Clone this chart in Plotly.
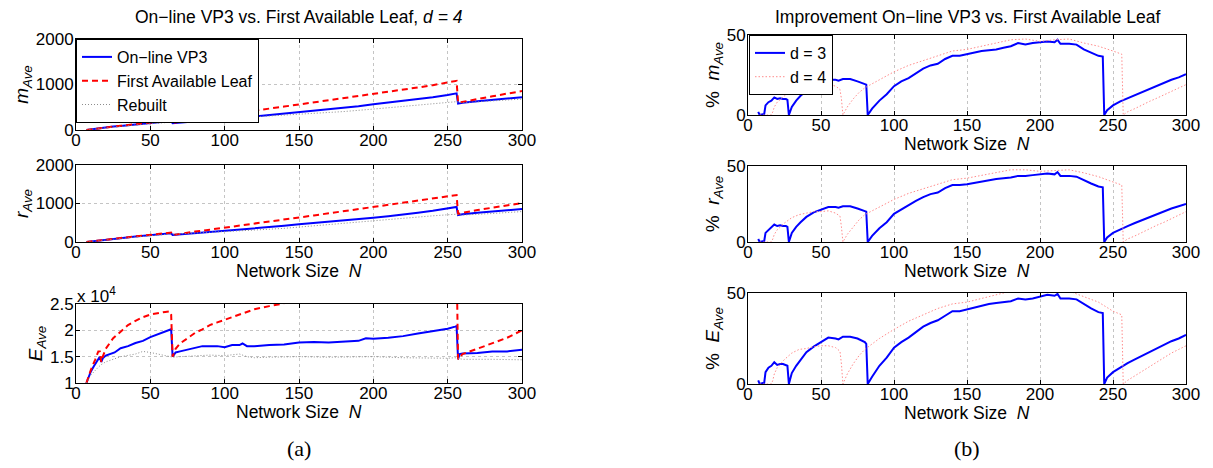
import plotly.graph_objects as go

# ---------------- DATA ----------------
# Left column: averages vs network size N
N_m_vp3 = [7, 10, 15, 20, 25, 30, 40, 50, 60, 64, 65, 70, 80, 90, 100, 110, 120, 130, 140, 150, 160, 170, 180, 190, 200, 210, 220, 230, 240, 250, 255, 256, 257, 260, 270, 280, 290, 300]
m_vp3 = [0, 15, 35, 55, 75, 90, 120, 150, 185, 200, 150, 165, 195, 220, 245, 270, 295, 325, 355, 390, 420, 450, 480, 520, 565, 600, 640, 680, 720, 770, 800, 805, 580, 600, 630, 660, 690, 720]
N_m_fal = [7, 10, 15, 20, 25, 30, 40, 50, 60, 64, 65, 70, 80, 90, 100, 110, 120, 130, 140, 150, 160, 170, 180, 190, 200, 210, 220, 230, 240, 250, 255, 256, 257, 260, 270, 280, 290, 300]
m_fal = [0, 15, 35, 55, 75, 92, 125, 160, 195, 210, 150, 185, 235, 285, 330, 375, 425, 470, 515, 560, 605, 650, 700, 745, 790, 840, 885, 935, 985, 1040, 1075, 1080, 600, 620, 680, 740, 800, 855]
N_m_reb = [7, 20, 40, 60, 80, 100, 120, 140, 160, 180, 200, 220, 240, 255, 260, 280, 300]
m_reb = [0, 50, 110, 170, 215, 250, 285, 320, 360, 405, 460, 520, 580, 620, 600, 640, 680]

N_r_vp3 = [7, 10, 20, 30, 40, 50, 60, 64, 65, 70, 80, 90, 100, 110, 120, 130, 140, 150, 160, 170, 180, 190, 200, 210, 220, 230, 240, 250, 255, 256, 257, 260, 270, 280, 290, 300]
r_vp3 = [0, 15, 60, 100, 140, 175, 210, 225, 180, 195, 225, 255, 285, 315, 350, 385, 420, 460, 490, 525, 560, 595, 630, 670, 710, 760, 810, 870, 905, 910, 700, 720, 760, 795, 825, 855]
N_r_fal = [7, 10, 20, 30, 40, 50, 60, 64, 65, 70, 80, 90, 100, 110, 120, 130, 140, 150, 160, 170, 180, 190, 200, 210, 220, 230, 240, 250, 255, 256, 257, 260, 270, 280, 290, 300]
r_fal = [0, 15, 60, 105, 145, 185, 225, 245, 180, 215, 270, 320, 370, 425, 475, 530, 580, 635, 690, 745, 800, 855, 910, 965, 1020, 1075, 1130, 1190, 1215, 1220, 730, 760, 830, 895, 955, 1010]
N_r_reb = [7, 20, 40, 60, 80, 100, 120, 140, 160, 180, 200, 220, 240, 255, 260, 280, 300]
r_reb = [0, 55, 130, 195, 230, 265, 310, 355, 420, 490, 565, 620, 680, 720, 700, 740, 790]

# E_Ave in units of 10^4
N_E_vp3 = [7, 8, 10, 12, 14, 16, 17, 18, 20, 23, 26, 30, 35, 40, 45, 50, 55, 60, 63, 64, 65, 67, 70, 75, 80, 85, 90, 95, 100, 105, 110, 112, 115, 120, 130, 140, 150, 160, 170, 180, 190, 195, 200, 210, 220, 230, 240, 250, 255, 256, 257, 258, 260, 270, 280, 290, 300]
E_vp3 = [1.0, 1.08, 1.22, 1.32, 1.42, 1.5, 1.4, 1.47, 1.52, 1.55, 1.58, 1.66, 1.7, 1.76, 1.8, 1.87, 1.92, 1.97, 2.0, 2.02, 1.5, 1.58, 1.6, 1.63, 1.66, 1.7, 1.7, 1.7, 1.68, 1.72, 1.72, 1.75, 1.7, 1.7, 1.72, 1.73, 1.77, 1.78, 1.77, 1.79, 1.8, 1.85, 1.84, 1.86, 1.89, 1.94, 1.98, 2.03, 2.07, 2.08, 1.45, 1.55, 1.56, 1.57, 1.6, 1.6, 1.63]
N_E_fal = [7, 10, 13, 15, 16, 17, 18, 20, 25, 30, 35, 40, 45, 50, 55, 60, 63, 64, 65, 67, 70, 75, 80, 85, 90, 95, 100, 110, 120, 130, 138, 150, 200, 255, 256, 257, 260, 270, 280, 290, 300]
E_fal = [1.0, 1.25, 1.45, 1.6, 1.6, 1.4, 1.5, 1.65, 1.85, 1.98, 2.1, 2.18, 2.25, 2.3, 2.33, 2.35, 2.36, 2.3, 1.5, 1.65, 1.75, 1.85, 1.95, 2.02, 2.1, 2.15, 2.2, 2.3, 2.4, 2.46, 2.5, 2.6, 3.0, 3.3, 3.3, 1.45, 1.55, 1.65, 1.75, 1.86, 2.0]
N_E_reb = [7, 10, 15, 17, 20, 25, 30, 40, 45, 50, 55, 60, 65, 70, 80, 90, 100, 110, 115, 120, 130, 150, 170, 190, 200, 220, 240, 250, 255, 260, 280, 300]
E_reb = [1.0, 1.15, 1.3, 1.35, 1.4, 1.45, 1.5, 1.55, 1.6, 1.58, 1.55, 1.52, 1.49, 1.5, 1.52, 1.53, 1.52, 1.55, 1.5, 1.48, 1.49, 1.5, 1.49, 1.5, 1.5, 1.48, 1.47, 1.47, 1.48, 1.45, 1.45, 1.44]

# Right column: % improvement
N_imp_d3 = [7, 8, 10, 11, 12, 14, 16, 18, 20, 22, 24, 26, 27, 28, 30, 33, 36, 40, 45, 50, 55, 60, 62, 65, 70, 75, 80, 81, 82, 85, 90, 95, 100, 105, 110, 115, 120, 125, 130, 135, 140, 145, 150, 155, 160, 165, 170, 175, 180, 185, 190, 195, 200, 205, 210, 212, 214, 220, 225, 230, 235, 240, 243, 244, 246, 250, 255, 260, 265, 270, 275, 280, 285, 290, 295, 300]
m_imp_d3 = [2, 0, 0.5, 0, 6, 8, 9, 11, 10, 10.5, 10, 10, 9.5, 0, 5, 9, 12, 15, 18, 20, 22, 22, 21.5, 22.5, 22.5, 21, 19.5, 19, 0, 4, 9, 13, 18, 21, 23, 26, 29, 31, 32, 35, 37, 37, 38, 39, 40, 40.5, 41, 42, 43, 45, 44, 45, 45.5, 46, 45.5, 47, 44.5, 44.5, 44, 41, 39, 37, 36.5, 0, 3, 6, 8.5, 10.5, 12.5, 14.5, 16.5, 18, 20.5, 22, 23.5, 25.5]
r_imp_d3 = [2, 0, 0.5, 0, 6, 8, 9.5, 11.5, 10.5, 11, 10.5, 10.5, 10, 0, 6, 10, 13, 16.5, 19.5, 21.5, 23, 23, 22.5, 23.5, 23.5, 22, 20.5, 20, 0, 4, 9, 13, 18.5, 21.5, 24, 27, 29.5, 31.5, 32.5, 35.5, 37.5, 37.5, 38, 39, 40, 41, 41.5, 42, 42.5, 43.5, 43.5, 44, 44.5, 45, 44.5, 46, 43.5, 43.5, 43, 40.5, 38.5, 36.5, 36, 0, 3, 6, 8.5, 10.5, 12.5, 14.5, 16.5, 18.5, 20.5, 22, 23.5, 25]
E_imp_d3 = [2, 0, 0.5, 0, 6.5, 9, 10, 12, 10.5, 11, 11, 10.5, 10, 0, 6, 10, 13.5, 17.5, 20.5, 23, 25.5, 25, 24.5, 26, 26, 25, 23, 22, 0, 4, 10, 14.5, 20, 23, 25.5, 28.5, 31.5, 33.5, 35, 37.5, 40, 40, 41, 42, 43, 44, 44.5, 45, 45.5, 47, 46.5, 47, 48, 49, 48.5, 49.5, 47, 47, 46.5, 44, 41.5, 39.5, 39, 0, 3.5, 6.5, 9, 11.5, 13.5, 15.5, 17.5, 19.5, 21.5, 23.5, 25, 27]

N_imp_d4 = [8, 12, 16, 17, 18, 20, 25, 30, 35, 40, 45, 50, 55, 60, 63, 64, 65, 68, 72, 76, 80, 90, 100, 110, 120, 130, 140, 150, 160, 170, 180, 190, 200, 210, 220, 230, 240, 250, 256, 257, 260, 265, 270, 275, 280, 285, 290, 295, 300]
m_imp_d4 = [0, 0, 0, 2, 5, 8, 12, 15, 17, 18, 19, 19, 19.5, 18, 16, 10, 0, 5, 10, 14, 17, 22, 27, 31, 34, 37, 40, 41, 43, 45, 47, 47.5, 46, 47, 47.5, 45, 43, 40, 38, 0, 2, 4, 6.5, 8.5, 10.5, 12.5, 15, 17, 19]
r_imp_d4 = [0, 0, 0, 2, 5, 8, 12.5, 16, 18, 19, 20, 20, 20.5, 19, 17, 10, 0, 5, 10, 14.5, 18, 23, 28, 32, 35, 38, 41, 42, 44, 45.5, 47.5, 47.5, 46.5, 47, 47.5, 45.5, 43, 39.5, 37.5, 0, 2, 4, 6.5, 8.5, 11, 13, 15.5, 17.5, 20]
E_imp_d4 = [0, 0, 0, 2, 5.5, 9, 13.5, 17, 19, 19.5, 20.5, 21, 21, 20, 18, 11, 0, 5.5, 11, 15.5, 19, 25, 30, 34.5, 38, 41.5, 44, 45, 47, 49, 51, 51, 50.5, 51, 51, 48, 45, 40, 38, 0, 2, 4.5, 7, 9.5, 12, 14.5, 17, 19, 21]

X_TICKS = [0, 50, 100, 150, 200, 250, 300]

# ---------------- FIGURE ----------------
W, H = 1213, 468
FONT = "Liberation Sans, Arial, Helvetica, sans-serif"
BLUE = "#0000ff"
RED = "#ff0000"
GRAY = "#8c8c8c"
LIGHTRED = "#ff8c8c"
GRIDC = "#c4c4c4"
XTITLE = "Network Size\u00a0 <i>N</i>"

def xd(a, b):
    return [a / W, b / W]

def yd(top, bottom):
    return [1 - bottom / H, 1 - top / H]

fig = go.Figure()

# name, x px (left,right), y px (top,bottom), yrange, ticks, ticktext, ytitle, has x title
panels = [
    ("1", (76, 522), (39, 130), [0, 2000], [0, 1000, 2000], ["0", "1000", "2000"], "<i>m</i><sub><i>Ave</i></sub>", False),
    ("2", (76, 522), (165, 242), [0, 2000], [0, 1000, 2000], ["0", "1000", "2000"], "<i>r</i><sub><i>Ave</i></sub>", True),
    ("3", (76, 522), (304, 383), [1, 2.5], [1, 1.5, 2, 2.5], ["1", "1.5", "2", "2.5"], "<i>E</i><sub><i>Ave</i></sub>", True),
    ("4", (748, 1186), (35, 115), [0, 50], [0, 50], ["0", "50"], "%\u00a0 <i>m</i><sub><i>Ave</i></sub>", True),
    ("5", (748, 1186), (166, 242), [0, 50], [0, 50], ["0", "50"], "%\u00a0 <i>r</i><sub><i>Ave</i></sub>", True),
    ("6", (748, 1186), (293, 384), [0, 50], [0, 50], ["0", "50"], "%\u00a0 <i>E</i><sub><i>Ave</i></sub>", True),
]

layout_axes = {}
annotations = []
for name, (xl, xr), (yt, yb), yr, ytv, ytt, ytitle, has_xt in panels:
    xk = "xaxis" if name == "1" else f"xaxis{name}"
    yk = "yaxis" if name == "1" else f"yaxis{name}"
    xref = "x" if name == "1" else f"x{name}"
    yref = "y" if name == "1" else f"y{name}"
    layout_axes[xk] = dict(
        domain=xd(xl, xr), range=[0, 300], anchor=yref, automargin=False,
        tickvals=X_TICKS, ticktext=[str(v) for v in X_TICKS],
        showline=True, linecolor="black", linewidth=1, mirror="ticks",
        ticks="inside", ticklen=4, tickcolor="black", ticklabelstandoff=-5,
        showgrid=True, gridcolor=GRIDC, griddash="dot", gridwidth=1,
        zeroline=False, tickfont=dict(size=17, color="black", family=FONT),
    )
    layout_axes[yk] = dict(
        domain=yd(yt, yb), range=yr, anchor=xref, automargin=False,
        tickvals=ytv, ticktext=ytt,
        showline=True, linecolor="black", linewidth=1, mirror="ticks",
        ticks="inside", ticklen=4, tickcolor="black", ticklabelstandoff=-2,
        showgrid=True, gridcolor=GRIDC, griddash="dot", gridwidth=1,
        zeroline=False, tickfont=dict(size=17, color="black", family=FONT),
        title=dict(text=ytitle, font=dict(size=19, color="black", family=FONT), standoff=2),
    )
    if has_xt:
        annotations.append(dict(
            text=XTITLE, x=(xl + xr) / 2 / W, y=1 - (yb + 29) / H,
            xref="paper", yref="paper", showarrow=False, xanchor="center", yanchor="middle",
            font=dict(size=17.5, color="black", family=FONT)))

def add(x, y, ax, color, dash, width, name, legend, showlegend):
    xref = "x" if ax == "1" else f"x{ax}"
    yref = "y" if ax == "1" else f"y{ax}"
    fig.add_trace(go.Scatter(
        x=x, y=y, mode="lines", xaxis=xref, yaxis=yref, name=name,
        line=dict(color=color, dash=dash, width=width),
        legend=legend, showlegend=showlegend, hoverinfo="skip",
    ))

DASH = "6px,4px"
DOT = "1px,2px"
DOT_LIGHT = "1.5px,2px"

# left column
add(N_m_vp3, m_vp3, "1", BLUE, "solid", 2, "On\u2212line VP3", "legend", True)
add(N_m_fal, m_fal, "1", RED, DASH, 2, "First Available Leaf", "legend", True)
add(N_m_reb, m_reb, "1", GRAY, DOT, 1, "Rebuilt", "legend", True)
add(N_r_vp3, r_vp3, "2", BLUE, "solid", 2, "On\u2212line VP3", "legend", False)
add(N_r_fal, r_fal, "2", RED, DASH, 2, "First Available Leaf", "legend", False)
add(N_r_reb, r_reb, "2", GRAY, DOT, 1, "Rebuilt", "legend", False)
add(N_E_vp3, E_vp3, "3", BLUE, "solid", 2, "On\u2212line VP3", "legend", False)
add(N_E_fal, E_fal, "3", RED, DASH, 2, "First Available Leaf", "legend", False)
add(N_E_reb, E_reb, "3", GRAY, DOT, 1, "Rebuilt", "legend", False)

# right column
add(N_imp_d3, m_imp_d3, "4", BLUE, "solid", 2, "d = 3", "legend2", True)
add(N_imp_d4, m_imp_d4, "4", LIGHTRED, DOT_LIGHT, 1, "d = 4", "legend2", True)
add(N_imp_d3, r_imp_d3, "5", BLUE, "solid", 2, "d = 3", "legend2", False)
add(N_imp_d4, r_imp_d4, "5", LIGHTRED, DOT_LIGHT, 1, "d = 4", "legend2", False)
add(N_imp_d3, E_imp_d3, "6", BLUE, "solid", 2, "d = 3", "legend2", False)
add(N_imp_d4, E_imp_d4, "6", LIGHTRED, DOT_LIGHT, 1, "d = 4", "legend2", False)

annotations += [
    dict(text="On\u2212line VP3 vs. First Available Leaf, <i>d = 4</i>", x=299 / W, y=1 - 17 / H,
         xref="paper", yref="paper", showarrow=False, xanchor="center", yanchor="middle",
         font=dict(size=17.5, color="black", family=FONT)),
    dict(text="Improvement On\u2212line VP3 vs. First Available Leaf", x=967 / W, y=1 - 17 / H,
         xref="paper", yref="paper", showarrow=False, xanchor="center", yanchor="middle",
         font=dict(size=17.5, color="black", family=FONT)),
    dict(text="x 10<sup>4</sup>", x=75 / W, y=1 - 295 / H,
         xref="paper", yref="paper", showarrow=False, xanchor="left", yanchor="middle",
         font=dict(size=17, color="black", family=FONT)),
    dict(text="(a)", x=299 / W, y=1 - 448 / H,
         xref="paper", yref="paper", showarrow=False, xanchor="center", yanchor="middle",
         font=dict(size=22, color="black", family="Liberation Serif, Times New Roman, serif")),
    dict(text="(b)", x=967 / W, y=1 - 448 / H,
         xref="paper", yref="paper", showarrow=False, xanchor="center", yanchor="middle",
         font=dict(size=22, color="black", family="Liberation Serif, Times New Roman, serif")),
]

fig.update_layout(
    width=W, height=H,
    margin=dict(l=0, r=0, t=0, b=0, autoexpand=False),
    paper_bgcolor="white", plot_bgcolor="white",
    font=dict(family=FONT, size=17, color="black"),
    annotations=annotations,
    legend=dict(x=76 / W, y=1 - 39 / H, xanchor="left", yanchor="top",
                bgcolor="white", bordercolor="black", borderwidth=1,
                font=dict(size=16, color="black", family=FONT), tracegroupgap=0,
                itemwidth=30),
    legend2=dict(x=749 / W, y=1 - 35 / H, xanchor="left", yanchor="top",
                 bgcolor="white", bordercolor="black", borderwidth=1,
                 font=dict(size=16, color="black", family=FONT), tracegroupgap=0,
                 itemwidth=30),
    showlegend=True,
    **layout_axes,
)

# remove the default 8px page margin so the figure sits at the window origin
fig.write_html(
    "out.html",
    config={"displayModeBar": False},
    post_script="document.body.style.margin='0px';document.body.style.overflow='hidden';",
)
